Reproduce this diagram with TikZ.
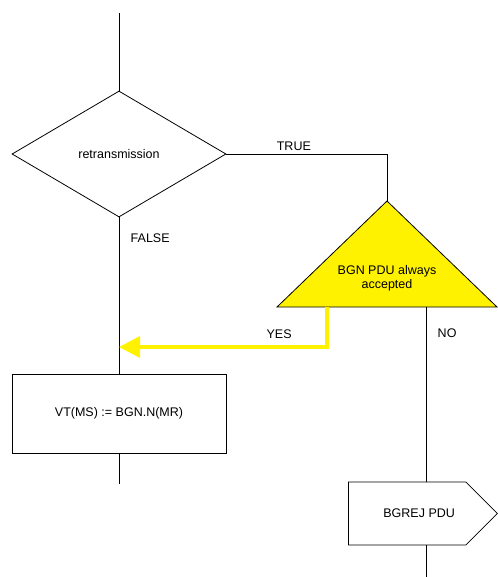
\documentclass[tikz,border=0pt]{standalone}
\usepackage{fontspec}
\setmainfont{Liberation Sans}
\usetikzlibrary{arrows.meta}
\usetikzlibrary{positioning}
\usetikzlibrary{shapes.geometric}
\usetikzlibrary{shapes.symbols}
\tikzset{decision/.style = {draw, diamond, inner sep = 0, minimum width = 214pt, minimum height = 126pt}}
\tikzset{check/.style = {draw, fill = yellow}}
\tikzset{task/.style = {draw, rectangle, minimum width = 214pt, minimum height = 79pt}}
\tikzset{sendsig/.style = {draw, signal, signal to = east, signal pointer angle = 90, minimum width = 149pt, minimum height = 63pt}}
\tikzset{yesline/.style = {draw = yellow, line width = 3.5pt, -{Triangle[length = 21pt, width = 21pt]}}}

\begin{document}
\begin{tikzpicture}[x = 1pt, y = -1pt, line width = 0.8pt, font = \fontsize{12.5}{14}\selectfont]
    \useasboundingbox (0, 0) rectangle (497, 577);

    \coordinate (start) at (119, 13);
    \node [decision] (retx) at (119, 154) {retransmission};
    \draw (start) -- (retx.north);

    % yellow decision triangle
    \coordinate (apex) at (387, 201);
    \coordinate (baseR) at (497, 307);
    \coordinate (baseL) at (277, 307);
    \filldraw [check] (apex) -- (baseR) -- (baseL) -- cycle;
    \node [align = center] (accept) at (387, 278) {BGN PDU always\\accepted};
    \draw (retx.east) -| (apex) node [pos = 0.21, above] {TRUE};

    \node [task] (assign) at (119, 413.5) {VT(MS) := BGN.N(MR)};
    \draw (retx.south) -- (assign.north) node [pos = 0.134, right, xshift = 8pt] {FALSE};
    \coordinate (endA) at (119, 484);
    \draw (assign.south) -- (endA);

    % yes branch back to the left column
    \coordinate (merge) at (119, 347);
    \coordinate (yesexit) at (327, 307);
    \draw [yesline] (yesexit) |- (merge) node [pos = 0.615, above, yshift = 3pt, text = black] {YES};

    \node [sendsig, anchor = west] (reject) at (348, 513.5) {\hspace*{24pt}BGREJ PDU};
    \coordinate (noexit) at (426, 307);
    \coordinate (endB) at (426, 577);
    \draw (noexit) -- (noexit |- reject.north) node [pos = 0.15, right, xshift = 8pt] {NO};
    \draw (noexit |- reject.south) -- (endB);
\end{tikzpicture}
\end{document}
